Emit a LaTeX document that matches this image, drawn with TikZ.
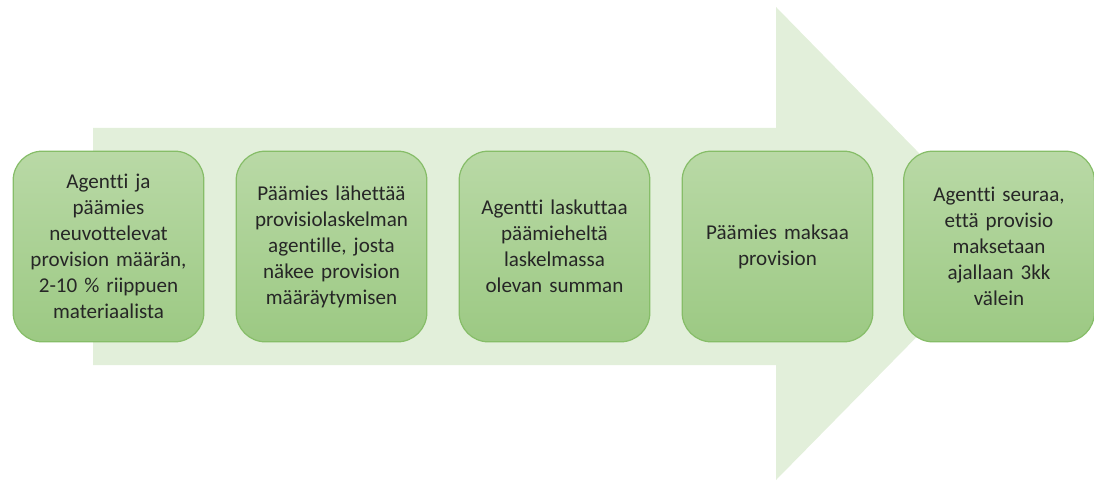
\documentclass[tikz,border=0pt]{standalone}
\usepackage{fontspec}
\setmainfont{Carlito}[Ligatures={NoCommon}]
\definecolor{arrowgreen}{HTML}{E2EFDA}
\definecolor{boxtop}{HTML}{B9D9A6}
\definecolor{boxbottom}{HTML}{9CC983}
\definecolor{boxline}{HTML}{86BD68}
\definecolor{boxtext}{HTML}{262626}
\tikzset{
	stepbox/.style={draw=boxline,line width=0.9pt,rounded corners=22pt,
		top color=boxtop,bottom color=boxbottom,
		minimum width=143pt,minimum height=143pt,inner sep=0pt,
		text width=130pt,align=center,text=boxtext,
		font=\fontsize{15.8}{19.5}\selectfont}
}
\begin{document}
\begin{tikzpicture}[x=0.75pt,y=-0.75pt]
	\useasboundingbox (0,0) rectangle (1094,481);
	% big arrow behind the steps
	\fill[arrowgreen] (93,128) -- (776,128) -- (776,7) -- (1008,244)
		-- (776,480) -- (776,365) -- (93,365) -- cycle;
	% steps
	\node[stepbox] (s1) at (108.5,246.5) {Agentti ja\\päämies\\neuvottelevat\\provision määrän,\\2-10~\% riippuen\\materiaalista};
	\node[stepbox] (s2) at (331.5,246.5) {Päämies lähettää\\provisiolaskelman\\agentille, josta\\näkee provision\\määräytymisen};
	\node[stepbox] (s3) at (554.5,246.5) {Agentti laskuttaa\\päämieheltä\\laskelmassa\\olevan summan};
	\node[stepbox] (s4) at (777.5,246.5) {Päämies maksaa\\provision};
	\node[stepbox] (s5) at (999,246.5) {Agentti seuraa,\\että provisio\\maksetaan\\ajallaan 3kk\\välein};
\end{tikzpicture}
\end{document}
